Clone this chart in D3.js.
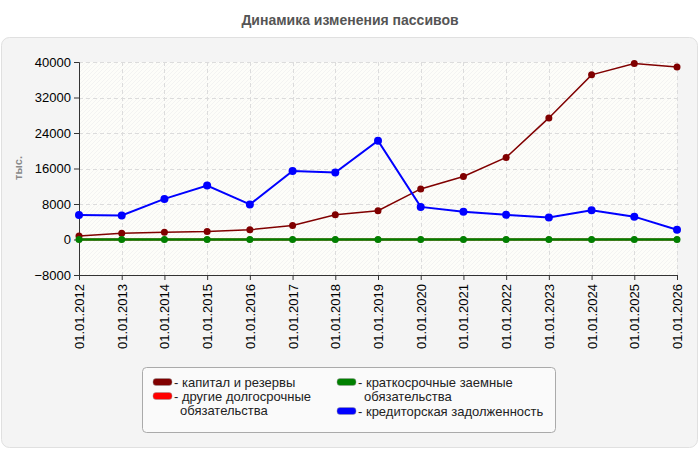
<!DOCTYPE html>
<html>
<head>
<meta charset="utf-8">
<script src="https://cdn.jsdelivr.net/npm/d3@7"></script>
<style>
  body { margin: 0; background: #fff; }
  svg { font-family: "Liberation Sans", Arial, sans-serif; }
</style>
</head>
<body>
<div class="chart"></div>
<script>
const dates = ['01.01.2012', '01.01.2013', '01.01.2014', '01.01.2015', '01.01.2016', '01.01.2017', '01.01.2018',
  '01.01.2019', '01.01.2020', '01.01.2021', '01.01.2022', '01.01.2023', '01.01.2024', '01.01.2025', '01.01.2026']

const capital = [800, 1400, 1650, 1800, 2200, 3150, 5600, 6500, 11400, 14200, 18500, 27400, 37100, 39650, 38900]
const otherLong = [0, 0, 0, 0, 0, 0, 0, 0, 0, 0, 0, 0, 0, 0, 0]
const shortLoans = [0, 0, 0, 0, 0, 0, 0, 0, 0, 0, 0, 0, 0, 0, 0]
const payables = [5500, 5400, 9150, 12150, 7900, 15450, 15100, 22250, 7350, 6250, 5550, 4950, 6600, 5150, 2200]

const yTicks = [-8000, 0, 8000, 16000, 24000, 32000, 40000]

const seriesNames = ['капитал и резервы', 'другие долгосрочные обязательства', 'краткосрочные заемные обязательства', 'кредиторская задолженность']
const seriesColors = ['#800000', '#ff0000', '#008000', '#0000ff']

const width = 700
const height = 450
const margin = { left: 79, right: 23, top: 62, bottom: 175 }

const svg = d3.select('.chart').append('svg').attr('width', width).attr('height', height)

// panel
svg.append('rect')
  .attr('x', 1.5).attr('y', 37.5).attr('width', 696).attr('height', 410)
  .attr('rx', 8)
  .attr('fill', '#f4f4f4').attr('stroke', '#e0e0e0')

svg.append('text')
  .attr('x', 350).attr('y', 25)
  .attr('text-anchor', 'middle')
  .attr('font-size', 14).attr('font-weight', 'bold').attr('fill', '#555')
  .text('Динамика изменения пассивов')

const x = d3.scalePoint().domain(dates).range([margin.left, width - margin.right])
const y = d3.scaleLinear().domain([-8000, 40000]).range([height - margin.bottom, margin.top])

// hatched plot background
const defs = svg.append('defs')
const pat = defs.append('pattern')
  .attr('id', 'hatch').attr('patternUnits', 'userSpaceOnUse')
  .attr('width', 4).attr('height', 4)
pat.append('rect').attr('width', 4).attr('height', 4).attr('fill', '#fdfdf9')
pat.append('path').attr('d', 'M-1,1 l2,-2 M0,4 l4,-4 M3,5 l2,-2')
  .attr('stroke', '#efefef').attr('stroke-width', 0.7)

svg.append('rect')
  .attr('x', margin.left).attr('y', margin.top)
  .attr('width', width - margin.right - margin.left)
  .attr('height', height - margin.bottom - margin.top)
  .attr('fill', 'url(#hatch)')

// grid
svg.append('g').selectAll('line').data(yTicks.slice(1)).join('line')
  .attr('x1', margin.left).attr('x2', width - margin.right)
  .attr('y1', d => Math.round(y(d)) + 0.5).attr('y2', d => Math.round(y(d)) + 0.5)
  .attr('stroke', '#dcdcdc').attr('stroke-dasharray', '4,3')
svg.append('g').selectAll('line').data(dates.slice(1)).join('line')
  .attr('x1', d => Math.round(x(d)) + 0.5).attr('x2', d => Math.round(x(d)) + 0.5)
  .attr('y1', margin.top).attr('y2', height - margin.bottom)
  .attr('stroke', '#dcdcdc').attr('stroke-dasharray', '4,3')

// axes
const yAxis = svg.append('g')
  .attr('transform', `translate(${margin.left},0)`)
  .call(d3.axisLeft(y).tickValues(yTicks).tickFormat(d3.format('d')).tickSize(5).tickPadding(3))
yAxis.selectAll('text').attr('font-size', 13).attr('fill', '#000')
yAxis.selectAll('line, path').attr('stroke', '#333')

const xAxis = svg.append('g')
  .attr('transform', `translate(0,${height - margin.bottom})`)
  .call(d3.axisBottom(x).tickSize(5).tickSizeOuter(0))
xAxis.selectAll('line, path').attr('stroke', '#333')
xAxis.selectAll('text')
  .attr('font-size', 13).attr('fill', '#000')
  .attr('transform', 'rotate(-90)')
  .attr('text-anchor', 'end')
  .attr('x', -9).attr('y', 0).attr('dy', '0.35em')

svg.append('text')
  .attr('transform', 'translate(22,168) rotate(-90)')
  .attr('text-anchor', 'middle')
  .attr('font-size', 11).attr('font-weight', 'bold').attr('fill', '#888')
  .text('тыс.')

// lines
const series = [
  { values: capital, color: seriesColors[0], w: 1.5, r: 3.5 },
  { values: otherLong, color: seriesColors[1], w: 2, r: 3 },
  { values: payables, color: seriesColors[3], w: 2, r: 4 },
  { values: shortLoans, color: seriesColors[2], w: 2.5, r: 3.5 },
]

const line = d3.line().x((d, i) => x(dates[i])).y(d => y(d))

series.forEach(s => {
  svg.append('path')
    .attr('d', line(s.values))
    .attr('fill', 'none')
    .attr('stroke', s.color)
    .attr('stroke-width', s.w)
  svg.append('g').selectAll('circle').data(s.values).join('circle')
    .attr('cx', (d, i) => x(dates[i]))
    .attr('cy', d => y(d))
    .attr('r', s.r)
    .attr('fill', s.color)
})

// legend
const legend = svg.append('g')
legend.append('rect')
  .attr('x', 142.5).attr('y', 367.5).attr('width', 413).attr('height', 65)
  .attr('rx', 4)
  .attr('fill', '#fafafa').attr('stroke', '#aaa')

const legendItems = [
  { name: ['капитал и резервы'], color: seriesColors[0], x: 153, y: 382 },
  { name: ['другие долгосрочные', 'обязательства'], color: seriesColors[1], x: 153, y: 396 },
  { name: ['краткосрочные заемные', 'обязательства'], color: seriesColors[2], x: 337, y: 382 },
  { name: ['кредиторская задолженность'], color: seriesColors[3], x: 337, y: 411 },
]

legendItems.forEach(item => {
  legend.append('rect')
    .attr('x', item.x).attr('y', item.y - 3.5).attr('width', 19).attr('height', 7)
    .attr('rx', 3)
    .attr('fill', item.color).attr('stroke', '#999').attr('stroke-width', 0.5)
  const t = legend.append('text')
    .attr('x', item.x + 21).attr('y', item.y + 4.5)
    .attr('font-size', 13).attr('fill', '#222')
  item.name.forEach((s, i) => {
    t.append('tspan')
      .attr('x', i === 0 ? item.x + 21 : item.x + 21 + 6)
      .attr('dy', i === 0 ? 0 : 14)
      .text(i === 0 ? '- ' + s : s)
  })
})
</script>
</body>
</html>
